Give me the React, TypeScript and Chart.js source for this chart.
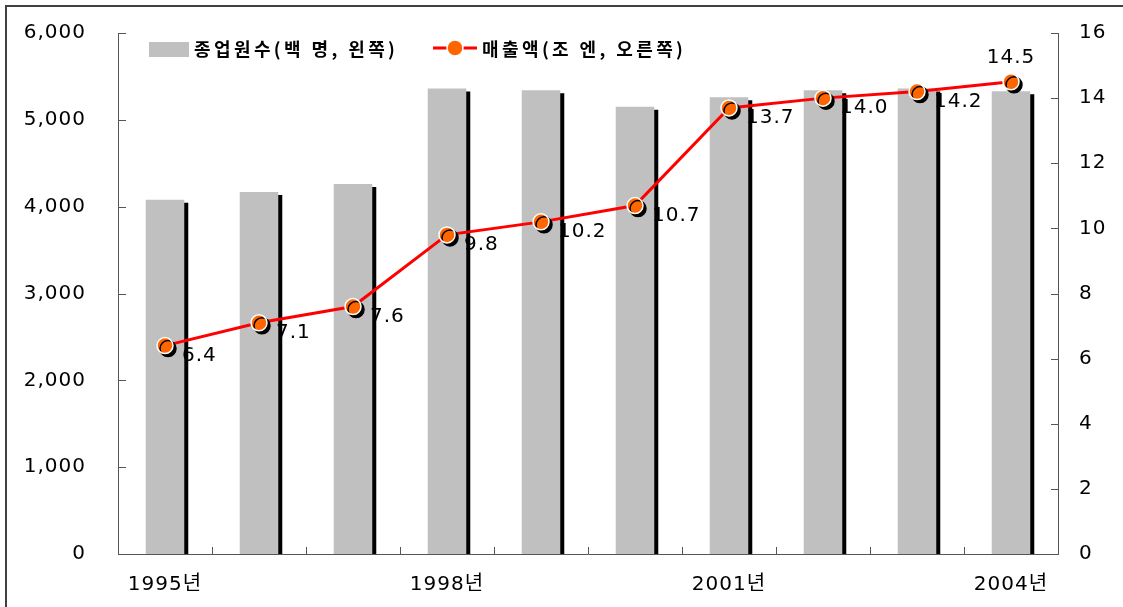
import React, { useEffect, useRef } from 'react';
import { Chart, registerables } from 'chart.js';

Chart.register(...registerables);

// ---- data ----
const categories = ['1995년', '1996년', '1997년', '1998년', '1999년', '2000년', '2001년', '2002년', '2003년', '2004년'];
const employees = [4080, 4170, 4260, 5360, 5340, 5150, 5260, 5340, 5360, 5330];
const sales = [6.4, 7.1, 7.6, 9.8, 10.2, 10.7, 13.7, 14.0, 14.2, 14.5];
const seriesLabels = ['종업원수(백 명, 왼쪽)', '매출액(조 엔, 오른쪽)'];
const leftAxis = { min: 0, max: 6000, step: 1000 };
const rightAxis = { min: 0, max: 16, step: 2 };
const showEveryNthYear = 3;

const NUM_FONT = '"DejaVu Sans", "Noto Sans CJK KR", sans-serif';
const KR_FONT = '"Noto Sans CJK KR", sans-serif';
const AXIS_COLOR = '#555555';

const spacingPlugin = {
  id: 'spacing',
  beforeUpdate(chart: any) {
    chart.ctx.letterSpacing = '1px';
  },
};

const shadowPlugin = {
  id: 'dsShadow',
  beforeDatasetDraw(chart: any, args: any) {
    const ds: any = chart.data.datasets[args.index];
    if (ds.shadow) {
      const ctx = chart.ctx;
      ctx.save();
      ctx.shadowColor = '#000000';
      ctx.shadowBlur = 0;
      ctx.shadowOffsetX = ds.shadow[0];
      ctx.shadowOffsetY = ds.shadow[1];
    }
  },
  afterDatasetDraw(chart: any, args: any) {
    const ds: any = chart.data.datasets[args.index];
    if (ds.shadow) chart.ctx.restore();
  },
};

const axesPlugin = {
  id: 'axesDraw',
  afterDatasetsDraw(chart: any) {
    const ctx = chart.ctx;
    const { left, right, top, bottom } = chart.chartArea;
    const xs = chart.scales.x;
    const yl = chart.scales.y;
    const yr = chart.scales.y1;
    ctx.save();
    ctx.strokeStyle = AXIS_COLOR;
    ctx.lineWidth = 1;
    ctx.beginPath();
    ctx.moveTo(left + 0.5, top);
    ctx.lineTo(left + 0.5, bottom + 0.5);
    ctx.lineTo(right + 0.5, bottom + 0.5);
    ctx.lineTo(right + 0.5, top);
    yl.ticks.forEach((t: any) => {
      const y = Math.round(yl.getPixelForValue(t.value)) + 0.5;
      ctx.moveTo(left, y);
      ctx.lineTo(left + 8, y);
    });
    yr.ticks.forEach((t: any) => {
      const y = Math.round(yr.getPixelForValue(t.value)) + 0.5;
      ctx.moveTo(right + 1, y);
      ctx.lineTo(right - 7, y);
    });
    for (let i = 0; i <= categories.length; i++) {
      const x = Math.round(xs.getPixelForValue(i - 0.5)) + 0.5;
      ctx.moveTo(x, bottom);
      ctx.lineTo(x, bottom - 7);
    }
    ctx.stroke();
    ctx.restore();
  },
};

const labelPlugin = {
  id: 'pointLabels',
  afterDatasetsDraw(chart: any) {
    const ctx = chart.ctx;
    const meta = chart.getDatasetMeta(2);
    const data = chart.data.datasets[2].data as number[];
    ctx.save();
    ctx.letterSpacing = '1px';
    ctx.fillStyle = '#000000';
    ctx.font = `20px ${NUM_FONT}`;
    ctx.textBaseline = 'middle';
    meta.data.forEach((pt: any, i: number) => {
      const txt = data[i].toFixed(1);
      if (i === data.length - 1) {
        ctx.textAlign = 'center';
        ctx.fillText(txt, pt.x, pt.y - 24);
      } else {
        ctx.textAlign = 'left';
        ctx.fillText(txt, pt.x + 17, pt.y + 10);
      }
    });
    ctx.restore();
  },
};

const legendPlugin = {
  id: 'customLegend',
  afterDraw(chart: any) {
    const ctx = chart.ctx;
    ctx.save();
    ctx.fillStyle = '#C0C0C0';
    ctx.fillRect(149, 42, 40, 15);
    ctx.letterSpacing = '3.4px';
    ctx.fillStyle = '#000000';
    ctx.font = `bold 18px ${KR_FONT}`;
    ctx.textBaseline = 'middle';
    ctx.textAlign = 'left';
    ctx.fillText(seriesLabels[0], 194, 49);
    ctx.strokeStyle = '#FF0000';
    ctx.lineWidth = 3;
    ctx.beginPath();
    ctx.moveTo(433, 48);
    ctx.lineTo(477, 48);
    ctx.stroke();
    ctx.beginPath();
    ctx.arc(455, 48, 8, 0, Math.PI * 2);
    ctx.fillStyle = '#FF6600';
    ctx.fill();
    ctx.lineWidth = 1.5;
    ctx.strokeStyle = '#FFFFFF';
    ctx.stroke();
    ctx.fillStyle = '#000000';
    ctx.fillText(seriesLabels[1], 482, 49);
    ctx.restore();
  },
};

const fixVertical = (width: number) => (s: any) => {
  s.width = width;
  s.paddingTop = 12;
  s.paddingBottom = 12;
};

export default function App() {
  const ref = useRef<HTMLCanvasElement | null>(null);

  useEffect(() => {
    if (!ref.current) return;
    const chart = new Chart(ref.current, {
      type: 'bar',
      data: {
        labels: categories,
        datasets: [
          {
            type: 'bar',
            label: seriesLabels[0],
            data: employees,
            backgroundColor: '#C0C0C0',
            borderWidth: 0,
            yAxisID: 'y',
            barPercentage: 0.41,
            categoryPercentage: 1,
            order: 3,
            shadow: [4, 3],
          } as any,
          {
            type: 'line',
            label: seriesLabels[1],
            data: sales,
            borderColor: '#FF0000',
            borderWidth: 3,
            pointRadius: 0,
            tension: 0,
            fill: false,
            yAxisID: 'y1',
            order: 2,
          } as any,
          {
            type: 'line',
            label: seriesLabels[1],
            data: sales,
            showLine: false,
            pointRadius: 8,
            pointBackgroundColor: '#FF6600',
            pointBorderColor: '#FFFFFF',
            pointBorderWidth: 1.5,
            yAxisID: 'y1',
            order: 1,
            shadow: [3, 3],
          } as any,
        ],
      },
      options: {
        responsive: false,
        devicePixelRatio: 1,
        animation: false,
        layout: { padding: { top: 33, left: 0, right: 0, bottom: 0 } },
        plugins: {
          legend: { display: false },
          tooltip: { enabled: false },
        },
        scales: {
          x: {
            type: 'category',
            offset: true,
            grid: { display: false, drawTicks: false },
            border: { display: false },
            ticks: {
              autoSkip: false,
              maxRotation: 0,
              minRotation: 0,
              padding: 19,
              color: '#000000',
              font: { family: NUM_FONT, size: 20 },
              callback: (_v: any, i: number) => (i % showEveryNthYear === 0 ? categories[i] : ''),
            },
            afterFit: (s: any) => {
              s.height = 53;
            },
          },
          y: {
            position: 'left',
            min: leftAxis.min,
            max: leftAxis.max,
            grid: { display: false, drawTicks: false },
            border: { display: false },
            ticks: {
              stepSize: leftAxis.step,
              padding: 32,
              color: '#000000',
              font: { family: NUM_FONT, size: 20 },
              callback: (v: any) => Number(v).toLocaleString('en-US'),
            },
            afterFit: fixVertical(118),
          },
          y1: {
            position: 'right',
            min: rightAxis.min,
            max: rightAxis.max,
            grid: { display: false, drawTicks: false },
            border: { display: false },
            ticks: {
              stepSize: rightAxis.step,
              padding: 21,
              color: '#000000',
              font: { family: NUM_FONT, size: 20 },
            },
            afterFit: fixVertical(65),
          },
        },
      },
      plugins: [spacingPlugin, shadowPlugin, axesPlugin, labelPlugin, legendPlugin],
    } as any);
    return () => chart.destroy();
  }, []);

  return (
    <div
      style={{
        position: 'absolute',
        left: 0,
        top: 0,
        width: 1123,
        height: 607,
        overflow: 'hidden',
        background: '#FFFFFF',
      }}
    >
      <div
        style={{
          position: 'absolute',
          left: 5,
          top: 5,
          width: 1200,
          height: 700,
          border: '2px solid #404040',
          boxSizing: 'border-box',
        }}
      />
      <canvas
        ref={ref}
        width={1123}
        height={607}
        style={{ position: 'absolute', left: 0, top: 0, width: 1123, height: 607 }}
      />
    </div>
  );
}
